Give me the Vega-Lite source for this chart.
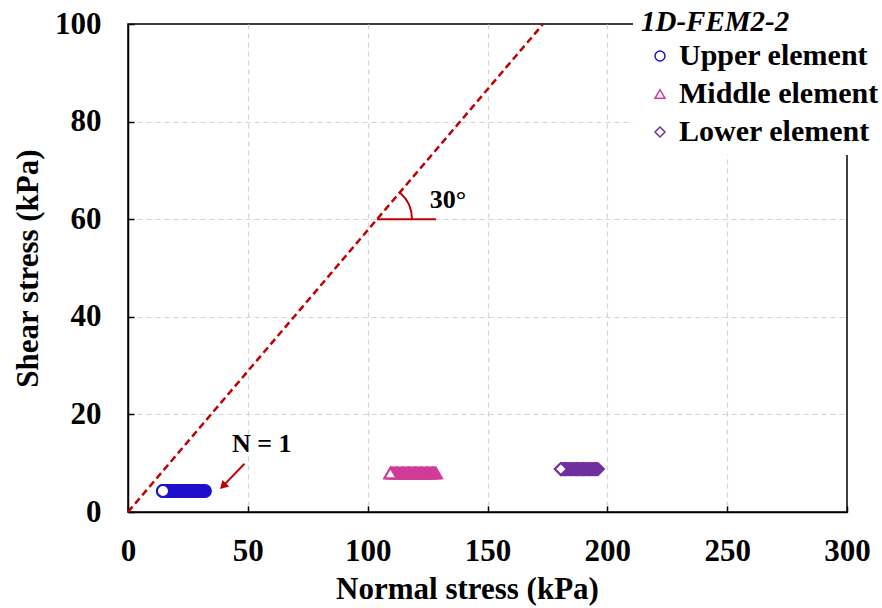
{
  "$schema": "https://vega.github.io/schema/vega-lite/v6.json",
  "width": 719,
  "height": 488,
  "autosize": "none",
  "padding": {"left": 128, "top": 24, "right": 35, "bottom": 96},
  "background": "white",
  "config": {
    "font": "Liberation Serif",
    "view": {"stroke": "black", "strokeWidth": 1.5},
    "axis": {
      "labelFont": "Liberation Serif", "labelFontSize": 31, "labelFontWeight": "bold", "labelColor": "black", "labelFlush": false, "labelOverlap": false,
      "titleFont": "Liberation Serif", "titleFontSize": 31, "titleFontWeight": "bold", "titleColor": "black",
      "domainColor": "black", "domainWidth": 1.5, "tickColor": "black", "tickWidth": 1.5, "tickSize": -6,
      "gridColor": "#d4d4d4", "gridDash": [5, 4], "gridWidth": 1.2
    },
    "legend": {
      "titleFont": "Liberation Serif", "titleFontSize": 29, "titleFontWeight": "bold", "titleFontStyle": "italic", "titleColor": "black",
      "labelFont": "Liberation Serif", "labelFontSize": 30, "labelFontWeight": "bold", "labelColor": "black", "labelLimit": 500
    }
  },
  "datasets": {
    "cycles": [
      {"series": "Upper element", "s": 14.6, "t": 4.3}, {"series": "Upper element", "s": 15.1, "t": 4.3}, {"series": "Upper element", "s": 15.6, "t": 4.3}, {"series": "Upper element", "s": 16.1, "t": 4.3}, {"series": "Upper element", "s": 16.6, "t": 4.3}, {"series": "Upper element", "s": 17.1, "t": 4.3}, {"series": "Upper element", "s": 17.6, "t": 4.3}, {"series": "Upper element", "s": 18.1, "t": 4.3}, {"series": "Upper element", "s": 18.6, "t": 4.3}, {"series": "Upper element", "s": 19.1, "t": 4.3}, {"series": "Upper element", "s": 19.6, "t": 4.3}, {"series": "Upper element", "s": 20.1, "t": 4.3}, {"series": "Upper element", "s": 20.6, "t": 4.3}, {"series": "Upper element", "s": 21.1, "t": 4.3}, {"series": "Upper element", "s": 21.6, "t": 4.3}, {"series": "Upper element", "s": 22.1, "t": 4.3}, {"series": "Upper element", "s": 22.6, "t": 4.3}, {"series": "Upper element", "s": 23.1, "t": 4.3}, {"series": "Upper element", "s": 23.6, "t": 4.3}, {"series": "Upper element", "s": 24.1, "t": 4.3}, {"series": "Upper element", "s": 24.6, "t": 4.3}, {"series": "Upper element", "s": 25.1, "t": 4.3}, {"series": "Upper element", "s": 25.6, "t": 4.3}, {"series": "Upper element", "s": 26.1, "t": 4.3}, {"series": "Upper element", "s": 26.6, "t": 4.3}, {"series": "Upper element", "s": 27.1, "t": 4.3}, {"series": "Upper element", "s": 27.6, "t": 4.3}, {"series": "Upper element", "s": 28.1, "t": 4.3}, {"series": "Upper element", "s": 28.6, "t": 4.3}, {"series": "Upper element", "s": 29.1, "t": 4.3}, {"series": "Upper element", "s": 29.6, "t": 4.3}, {"series": "Upper element", "s": 30.1, "t": 4.3}, {"series": "Upper element", "s": 30.6, "t": 4.3}, {"series": "Upper element", "s": 31.1, "t": 4.3}, {"series": "Upper element", "s": 31.6, "t": 4.3}, {"series": "Upper element", "s": 32.1, "t": 4.3},
      {"series": "Middle element", "s": 109.5, "t": 8.0}, {"series": "Middle element", "s": 110.0, "t": 8.0}, {"series": "Middle element", "s": 110.5, "t": 8.0}, {"series": "Middle element", "s": 111.0, "t": 8.0}, {"series": "Middle element", "s": 111.5, "t": 8.0}, {"series": "Middle element", "s": 112.0, "t": 8.0}, {"series": "Middle element", "s": 112.5, "t": 8.0}, {"series": "Middle element", "s": 113.0, "t": 8.0}, {"series": "Middle element", "s": 113.5, "t": 8.0}, {"series": "Middle element", "s": 114.0, "t": 8.0}, {"series": "Middle element", "s": 114.5, "t": 8.0}, {"series": "Middle element", "s": 115.0, "t": 8.0}, {"series": "Middle element", "s": 115.5, "t": 8.0}, {"series": "Middle element", "s": 116.0, "t": 8.0}, {"series": "Middle element", "s": 116.5, "t": 8.0}, {"series": "Middle element", "s": 117.0, "t": 8.0}, {"series": "Middle element", "s": 117.5, "t": 8.0}, {"series": "Middle element", "s": 118.0, "t": 8.0}, {"series": "Middle element", "s": 118.5, "t": 8.0}, {"series": "Middle element", "s": 119.0, "t": 8.0}, {"series": "Middle element", "s": 119.5, "t": 8.0}, {"series": "Middle element", "s": 120.0, "t": 8.0}, {"series": "Middle element", "s": 120.5, "t": 8.0}, {"series": "Middle element", "s": 121.0, "t": 8.0}, {"series": "Middle element", "s": 121.5, "t": 8.0}, {"series": "Middle element", "s": 122.0, "t": 8.0}, {"series": "Middle element", "s": 122.5, "t": 8.0}, {"series": "Middle element", "s": 123.0, "t": 8.0}, {"series": "Middle element", "s": 123.5, "t": 8.0}, {"series": "Middle element", "s": 124.0, "t": 8.0}, {"series": "Middle element", "s": 124.5, "t": 8.0}, {"series": "Middle element", "s": 125.0, "t": 8.0}, {"series": "Middle element", "s": 125.5, "t": 8.0}, {"series": "Middle element", "s": 126.0, "t": 8.0}, {"series": "Middle element", "s": 126.5, "t": 8.0}, {"series": "Middle element", "s": 127.0, "t": 8.0}, {"series": "Middle element", "s": 127.5, "t": 8.0}, {"series": "Middle element", "s": 128.0, "t": 8.0}, {"series": "Middle element", "s": 128.5, "t": 8.0},
      {"series": "Lower element", "s": 180.6, "t": 8.8}, {"series": "Lower element", "s": 181.1, "t": 8.8}, {"series": "Lower element", "s": 181.6, "t": 8.8}, {"series": "Lower element", "s": 182.1, "t": 8.8}, {"series": "Lower element", "s": 182.6, "t": 8.8}, {"series": "Lower element", "s": 183.1, "t": 8.8}, {"series": "Lower element", "s": 183.6, "t": 8.8}, {"series": "Lower element", "s": 184.1, "t": 8.8}, {"series": "Lower element", "s": 184.6, "t": 8.8}, {"series": "Lower element", "s": 185.1, "t": 8.8}, {"series": "Lower element", "s": 185.6, "t": 8.8}, {"series": "Lower element", "s": 186.1, "t": 8.8}, {"series": "Lower element", "s": 186.6, "t": 8.8}, {"series": "Lower element", "s": 187.1, "t": 8.8}, {"series": "Lower element", "s": 187.6, "t": 8.8}, {"series": "Lower element", "s": 188.1, "t": 8.8}, {"series": "Lower element", "s": 188.6, "t": 8.8}, {"series": "Lower element", "s": 189.1, "t": 8.8}, {"series": "Lower element", "s": 189.6, "t": 8.8}, {"series": "Lower element", "s": 190.1, "t": 8.8}, {"series": "Lower element", "s": 190.6, "t": 8.8}, {"series": "Lower element", "s": 191.1, "t": 8.8}, {"series": "Lower element", "s": 191.6, "t": 8.8}, {"series": "Lower element", "s": 192.1, "t": 8.8}, {"series": "Lower element", "s": 192.6, "t": 8.8}, {"series": "Lower element", "s": 193.1, "t": 8.8}, {"series": "Lower element", "s": 193.6, "t": 8.8}, {"series": "Lower element", "s": 194.1, "t": 8.8}, {"series": "Lower element", "s": 194.6, "t": 8.8}, {"series": "Lower element", "s": 195.1, "t": 8.8}, {"series": "Lower element", "s": 195.6, "t": 8.8}, {"series": "Lower element", "s": 196.1, "t": 8.8}
    ],
    "first": [
      {"series": "Upper element", "s": 14.6, "t": 4.3},
      {"series": "Middle element", "s": 109.5, "t": 8.0},
      {"series": "Lower element", "s": 180.6, "t": 8.8}
    ],
    "failure": [{"s": 0, "t": 0}, {"s": 173.2, "t": 100}],
    "angleLine": [{"s": 103.9, "s2": 128.5, "t": 60}],
    "angleArc": [{"s": 103.9, "t": 60}],
    "arrow": [{"s": 48.6, "t": 9.9, "s2": 40.2, "t2": 5.6}],
    "arrowHead": [{"s": 39.6, "t": 5.3}],
    "labels": [
      {"s": 55.8, "t": 13.9, "text": "N = 1"},
      {"s": 133.5, "t": 63.9, "text": "30°"}
    ]
  },
  "layer": [
    {
      "data": {"name": "failure"},
      "mark": {"type": "line", "color": "#c00000", "strokeWidth": 2.5, "strokeDash": [7, 4]},
      "encoding": {
        "x": {"field": "s", "type": "quantitative", "scale": {"domain": [0, 300], "nice": false},
          "axis": {"title": "Normal stress (kPa)", "values": [0, 50, 100, 150, 200, 250, 300], "labelPadding": 30, "titlePadding": 8, "titleX": 339,
            "gridOpacity": {"condition": {"test": "datum.value <= 0 || datum.value >= 300", "value": 0}, "value": 1}}},
        "y": {"field": "t", "type": "quantitative", "scale": {"domain": [0, 100], "nice": false},
          "axis": {"title": "Shear stress (kPa)", "values": [0, 20, 40, 60, 80, 100], "labelPadding": 33, "titlePadding": 10,
            "gridOpacity": {"condition": {"test": "datum.value <= 0 || datum.value >= 100", "value": 0}, "value": 1}}}
      }
    },
    {
      "data": {"name": "angleLine"},
      "mark": {"type": "rule", "color": "#c00000", "strokeWidth": 2},
      "encoding": {
        "x": {"field": "s", "type": "quantitative"},
        "x2": {"field": "s2"},
        "y": {"field": "t", "type": "quantitative"}
      }
    },
    {
      "data": {"name": "angleArc"},
      "mark": {"type": "arc", "color": "#c00000", "theta": 0.705, "theta2": 1.5708, "innerRadius": 34, "outerRadius": 36},
      "encoding": {
        "x": {"field": "s", "type": "quantitative"},
        "y": {"field": "t", "type": "quantitative"}
      }
    },
    {
      "data": {"name": "cycles"},
      "mark": {"type": "point", "filled": false, "strokeWidth": 2, "opacity": 1, "size": 144},
      "encoding": {
        "x": {"field": "s", "type": "quantitative"},
        "y": {"field": "t", "type": "quantitative"},
        "color": {"field": "series", "type": "nominal", "title": "1D-FEM2-2",
          "scale": {"domain": ["Upper element", "Middle element", "Lower element"], "range": ["#2010cc", "#d03c98", "#7030a0"]},
          "legend": {"orient": "none", "legendX": 505, "legendY": -24, "padding": 8, "fillColor": "white", "symbolOffset": 4, "symbolSize": 100, "symbolStrokeWidth": 1.5, "rowPadding": 8, "titlePadding": 4, "labelOffset": 4, "labelLimit": 500}},
        "shape": {"field": "series", "type": "nominal", "title": "1D-FEM2-2",
          "scale": {"domain": ["Upper element", "Middle element", "Lower element"], "range": ["circle", "triangle-up", "diamond"]},
          "legend": {"orient": "none", "legendX": 505, "legendY": -24, "padding": 8, "fillColor": "white", "symbolOffset": 4, "symbolSize": 100, "symbolStrokeWidth": 1.5, "rowPadding": 8, "titlePadding": 4, "labelOffset": 4, "labelLimit": 500}}
      }
    },
    {
      "data": {"name": "first"},
      "mark": {"type": "point", "filled": false, "fill": "white", "fillOpacity": 1, "strokeWidth": 2, "opacity": 1, "size": 144},
      "encoding": {
        "x": {"field": "s", "type": "quantitative"},
        "y": {"field": "t", "type": "quantitative"},
        "color": {"field": "series", "type": "nominal", "title": "1D-FEM2-2"},
        "shape": {"field": "series", "type": "nominal", "title": "1D-FEM2-2"}
      }
    },
    {
      "data": {"name": "arrow"},
      "mark": {"type": "rule", "color": "#c00000", "strokeWidth": 2},
      "encoding": {
        "x": {"field": "s", "type": "quantitative"},
        "y": {"field": "t", "type": "quantitative"},
        "x2": {"field": "s2"},
        "y2": {"field": "t2"}
      }
    },
    {
      "data": {"name": "arrowHead"},
      "mark": {"type": "point", "shape": "triangle-up", "filled": true, "color": "#c00000", "size": 90, "angle": 225, "opacity": 1},
      "encoding": {
        "x": {"field": "s", "type": "quantitative"},
        "y": {"field": "t", "type": "quantitative"}
      }
    },
    {
      "data": {"name": "labels"},
      "mark": {"type": "text", "font": "Liberation Serif", "fontSize": 26, "fontWeight": "bold", "color": "black", "align": "center", "baseline": "middle"},
      "encoding": {
        "x": {"field": "s", "type": "quantitative"},
        "y": {"field": "t", "type": "quantitative"},
        "text": {"field": "text"}
      }
    }
  ]
}
